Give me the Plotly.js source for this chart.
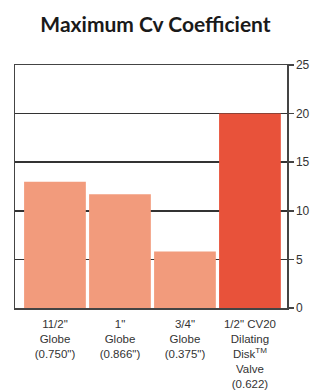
<!DOCTYPE html>
<html>
<head>
<meta charset="utf-8">
<script src="https://cdn.plot.ly/plotly-3.0.1.min.js"></script>
<style>html,body{margin:0;padding:0;background:#fff;}#chart{width:311px;height:390px;}</style>
</head>
<body>
<div id="chart"></div>
<script>
const categories = ['11/2"<br>Globe<br>(0.750")', '1"<br>Globe<br>(0.866")', '3/4"<br>Globe<br>(0.375")', '1/2" CV20<br>Dilating<br>Disk<sup>TM</sup><br>Valve<br>(0.622)'];
const values = [13.0, 11.7, 5.8, 20.0];
const barColors = ['#F29B7C', '#F29B7C', '#F29B7C', '#E8523A'];
const yTicks = [0, 5, 10, 15, 20, 25];

const positions = categories.map((c, i) => i);

Plotly.newPlot('chart', [{
  type: 'bar',
  x: positions,
  y: values,
  width: 0.95,
  marker: {color: barColors, line: {width: 0}},
  hoverinfo: 'none'
}], {
  width: 311, height: 390,
  margin: {l: 15, r: 24, t: 65, b: 82},
  paper_bgcolor: '#fff', plot_bgcolor: '#fff',
  showlegend: false,
  title: {text: '<b>Maximum Cv Coefficient</b>', x: 0.5, xanchor: 'center', y: 0.936, yanchor: 'middle',
          font: {family: 'Lato', size: 21, color: '#1a1a1a'}},
  xaxis: {
    range: [-0.615, 3.57],
    tickmode: 'array', tickvals: positions, ticktext: categories,
    ticks: '', showgrid: false, zeroline: false, ticklabelstandoff: 5,
    showline: true, linecolor: '#444', linewidth: 1.5, mirror: true,
    tickfont: {family: 'Liberation Sans', size: 11.5, color: '#333'}
  },
  yaxis: {
    range: [0, 25], side: 'right',
    tickmode: 'array', tickvals: yTicks,
    ticks: 'outside', ticklen: 5, tickcolor: '#444', tickwidth: 1.5,
    showgrid: true, gridcolor: '#333', gridwidth: 1.5,
    zeroline: false,
    showline: true, linecolor: '#444', linewidth: 1.5, mirror: true,
    tickfont: {family: 'Liberation Sans', size: 12, color: '#333'}
  }
}, {staticPlot: true});
</script>
</body>
</html>
